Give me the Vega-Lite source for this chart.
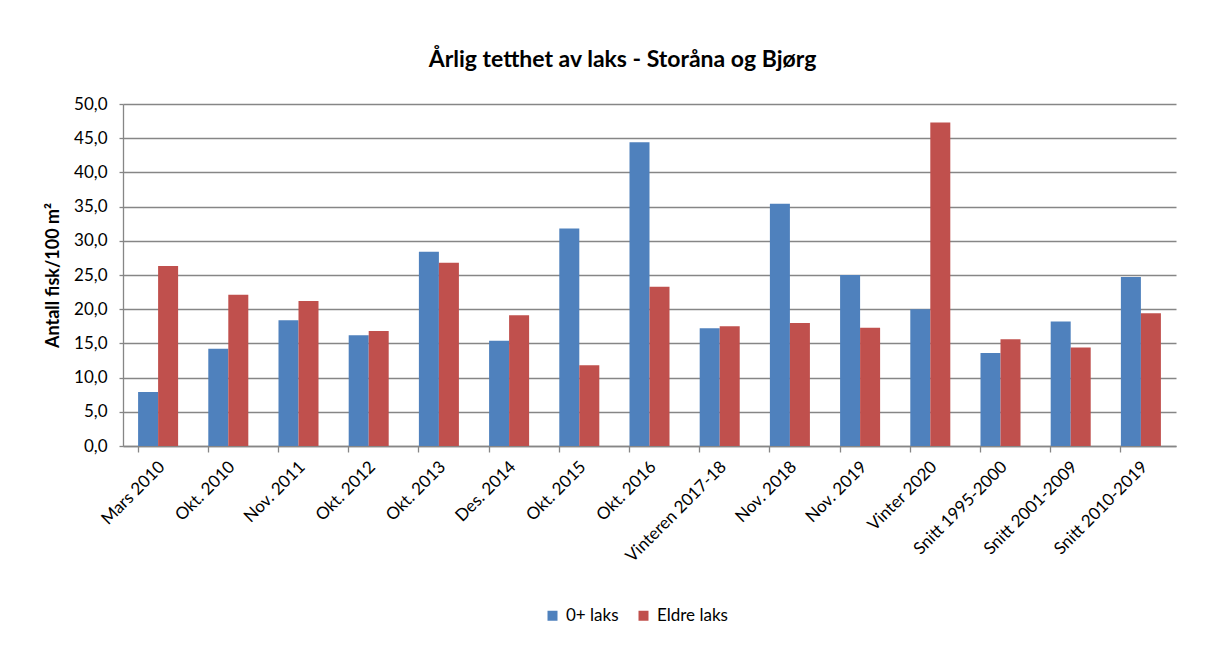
{
  "$schema": "https://vega.github.io/schema/vega-lite/v6.json",
  "autosize": "none",
  "width": 1053,
  "height": 342,
  "padding": {"left": 123, "top": 104, "right": 30, "bottom": 200},
  "background": "white",
  "config": {
    "font": "Lato",
    "view": {"stroke": null},
    "axis": {"labelFont": "Lato", "titleFont": "Lato", "labelColor": "#000000", "titleColor": "#000000"}
  },
  "title": {
    "text": "Årlig tetthet av laks - Storåna og Bjørg",
    "font": "Lato",
    "fontSize": 23,
    "fontWeight": "bold",
    "color": "#000000",
    "anchor": "middle",
    "frame": "group",
    "dx": -27,
    "offset": 23
  },
  "data": {
    "values": [
      {"periode": "Mars 2010", "type": "0+ laks", "verdi": 7.9},
      {"periode": "Mars 2010", "type": "Eldre laks", "verdi": 26.3},
      {"periode": "Okt. 2010", "type": "0+ laks", "verdi": 14.2},
      {"periode": "Okt. 2010", "type": "Eldre laks", "verdi": 22.1},
      {"periode": "Nov. 2011", "type": "0+ laks", "verdi": 18.4},
      {"periode": "Nov. 2011", "type": "Eldre laks", "verdi": 21.2},
      {"periode": "Okt. 2012", "type": "0+ laks", "verdi": 16.2},
      {"periode": "Okt. 2012", "type": "Eldre laks", "verdi": 16.8},
      {"periode": "Okt. 2013", "type": "0+ laks", "verdi": 28.4},
      {"periode": "Okt. 2013", "type": "Eldre laks", "verdi": 26.8},
      {"periode": "Des. 2014", "type": "0+ laks", "verdi": 15.4},
      {"periode": "Des. 2014", "type": "Eldre laks", "verdi": 19.1},
      {"periode": "Okt. 2015", "type": "0+ laks", "verdi": 31.8},
      {"periode": "Okt. 2015", "type": "Eldre laks", "verdi": 11.8},
      {"periode": "Okt. 2016", "type": "0+ laks", "verdi": 44.4},
      {"periode": "Okt. 2016", "type": "Eldre laks", "verdi": 23.3},
      {"periode": "Vinteren 2017-18", "type": "0+ laks", "verdi": 17.2},
      {"periode": "Vinteren 2017-18", "type": "Eldre laks", "verdi": 17.5},
      {"periode": "Nov. 2018", "type": "0+ laks", "verdi": 35.4},
      {"periode": "Nov. 2018", "type": "Eldre laks", "verdi": 18.0},
      {"periode": "Nov. 2019", "type": "0+ laks", "verdi": 25.0},
      {"periode": "Nov. 2019", "type": "Eldre laks", "verdi": 17.3},
      {"periode": "Vinter 2020", "type": "0+ laks", "verdi": 20.0},
      {"periode": "Vinter 2020", "type": "Eldre laks", "verdi": 47.3},
      {"periode": "Snitt 1995-2000", "type": "0+ laks", "verdi": 13.6},
      {"periode": "Snitt 1995-2000", "type": "Eldre laks", "verdi": 15.6},
      {"periode": "Snitt 2001-2009", "type": "0+ laks", "verdi": 18.2},
      {"periode": "Snitt 2001-2009", "type": "Eldre laks", "verdi": 14.4},
      {"periode": "Snitt 2010-2019", "type": "0+ laks", "verdi": 24.7},
      {"periode": "Snitt 2010-2019", "type": "Eldre laks", "verdi": 19.4}
    ]
  },
  "mark": {"type": "bar"},
  "encoding": {
    "x": {
      "field": "periode",
      "type": "nominal",
      "sort": null,
      "scale": {"paddingInner": 0.43, "paddingOuter": 0.215},
      "axis": {
        "title": null,
        "labelAngle": -45,
        "labelAlign": "right",
        "labelBaseline": "middle",
        "labelFontSize": 17,
        "labelPadding": 12,
        "labelOffset": 4,
        "bandPosition": 0,
        "ticks": true,
        "tickSize": 6,
        "tickColor": "#868686",
        "tickWidth": 1.3,
        "domain": true,
        "domainColor": "#868686",
        "domainWidth": 1.3,
        "grid": false
      }
    },
    "xOffset": {"field": "type", "type": "nominal", "sort": ["0+ laks", "Eldre laks"]},
    "y": {
      "field": "verdi",
      "type": "quantitative",
      "scale": {"domain": [0, 50], "nice": false},
      "axis": {
        "title": "Antall fisk/100 m²",
        "titleFontSize": 18,
        "titleFontWeight": "bold",
        "titlePadding": 11,
        "values": [0, 5, 10, 15, 20, 25, 30, 35, 40, 45, 50],
        "labelExpr": "replace(format(datum.value, '.1f'), '.', ',')",
        "labelFontSize": 17,
        "labelPadding": 12,
        "labelOverlap": false,
        "tickSize": 4,
        "tickColor": "#868686",
        "tickWidth": 1.3,
        "domainColor": "#868686",
        "domainWidth": 1.3,
        "grid": true,
        "gridColor": "#868686",
        "gridWidth": 1.3
      }
    },
    "color": {
      "field": "type",
      "type": "nominal",
      "scale": {"domain": ["0+ laks", "Eldre laks"], "range": ["#4F81BD", "#C0504D"]},
      "legend": {
        "title": null,
        "orient": "none",
        "direction": "horizontal",
        "legendX": 421,
        "legendY": 503,
        "symbolType": "square",
        "symbolSize": 100,
        "symbolStrokeWidth": 0,
        "labelFontSize": 17,
        "labelFont": "Lato",
        "labelColor": "#000000",
        "columnPadding": 16,
        "labelOffset": 5
      }
    }
  }
}
